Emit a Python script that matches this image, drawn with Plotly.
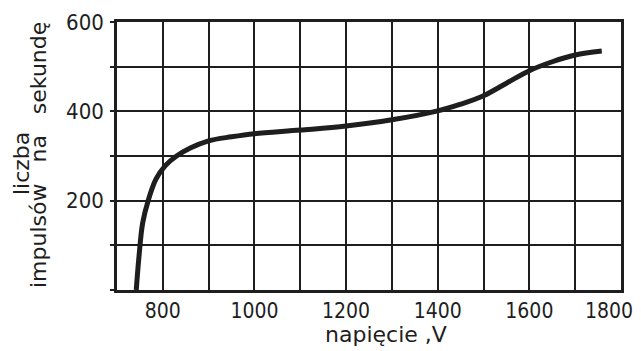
import plotly.graph_objects as go

voltage = [742, 748, 756, 768, 785, 805, 830, 860, 900, 950, 1000, 1100, 1200, 1300, 1400, 1450, 1500, 1550, 1600, 1650, 1700, 1758]
counts = [0, 75, 150, 200, 248, 278, 300, 318, 334, 343, 350, 358, 367, 381, 401, 416, 435, 463, 491, 511, 526, 535]

x_ticks = list(range(700, 1801, 100))
x_labels = [str(v) if v % 200 == 0 and v >= 800 else "" for v in x_ticks]
y_ticks = list(range(0, 601, 100))
y_labels = [str(v) if v in (200, 400, 600) else "" for v in y_ticks]

x_title = "napięcie\u00a0,V"
y_title_1 = "liczba"
y_title_2 = "impulsów\u00a0\u00a0\u00a0na\u00a0\u00a0\u00a0sekundę"

# last label is pulled a little left so it stays inside the page, as in the reference
x_labels[-1] = x_labels[-1] + "\u00a0\u00a0\u00a0\u00a0"

ink = "#1e1e1e"
fig = go.Figure()
fig.add_trace(go.Scatter(x=voltage, y=counts, mode="lines",
                         line=dict(color=ink, width=5, shape="spline", smoothing=1.0),
                         hoverinfo="skip", showlegend=False))

xtickfont = dict(family="DejaVu Sans Condensed, DejaVu Sans", size=21, color=ink)
ytickfont = dict(family="DejaVu Sans Condensed, DejaVu Sans", size=22, color=ink)
titlefont = dict(family="DejaVu Sans", size=22, color=ink)

# page has an 8px body margin; plot area in page coords: x 117..621, y 22..290
W, H = 633, 343
L, R, T, B = 109, 20, 14, 61
pw, ph = W - L - R, H - T - B

def px(xp):  # page x -> paper
    return (xp - 8 - L) / pw

def py(yp):  # page y -> paper
    return (H - B - (yp - 8)) / ph

fig.update_layout(
    width=W, height=H,
    margin=dict(l=L, r=R, t=T, b=B, autoexpand=False),
    paper_bgcolor="white", plot_bgcolor="white",
    xaxis=dict(range=[700, 1800], tickmode="array", tickvals=x_ticks, ticktext=x_labels,
               showgrid=True, gridcolor=ink, gridwidth=1.5, zeroline=False,
               showline=True, linecolor=ink, linewidth=2.5, mirror=True,
               ticks="", tickfont=xtickfont, ticklabelstandoff=0,
               automargin=False, ticklabeloverflow="allow"),
    yaxis=dict(range=[0, 600], tickmode="array", tickvals=y_ticks, ticktext=y_labels,
               showgrid=True, gridcolor=ink, gridwidth=1.5, zeroline=False,
               showline=True, linecolor=ink, linewidth=2.5, mirror=True,
               ticks="outside", ticklen=4, tickwidth=1.5, tickcolor=ink, tickfont=ytickfont,
               ticklabelstandoff=2, automargin=False, ticklabeloverflow="allow"),
    annotations=[
        dict(text=x_title, xref="paper", yref="paper", x=px(386), y=py(334),
             xanchor="center", yanchor="middle", showarrow=False, font=titlefont),
        dict(text=y_title_1, xref="paper", yref="paper", x=px(21), y=py(164),
             xanchor="center", yanchor="middle", showarrow=False, textangle=-90, font=titlefont),
        dict(text=y_title_2, xref="paper", yref="paper", x=px(38), y=py(155),
             xanchor="center", yanchor="middle", showarrow=False, textangle=-90, font=titlefont),
    ],
)
fig.write_html("out.html")
